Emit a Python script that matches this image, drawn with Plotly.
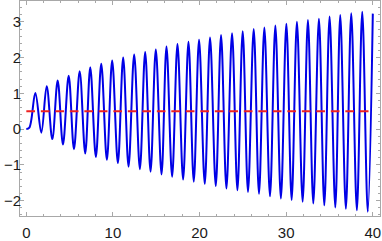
import plotly.graph_objects as go

# Curve: start, alternating peaks and troughs, end
start_x = [0.0, 0.35]
start_y = [0.0, 0.04]
peak_x = [1.04, 2.35, 3.62, 4.89, 6.16, 7.38, 8.65, 9.91, 11.18, 12.45,
          13.72, 14.95, 16.18, 17.45, 18.72, 19.94, 21.21, 22.48, 23.75, 24.98,
          26.25, 27.48, 28.75, 30.02, 31.24, 32.51, 33.78, 35.01, 36.24, 37.51, 38.78]
peak_y = [1.01, 1.20, 1.36, 1.49, 1.62, 1.73, 1.83, 1.92, 2.00, 2.09,
          2.16, 2.23, 2.31, 2.38, 2.44, 2.50, 2.56, 2.63, 2.68, 2.74,
          2.80, 2.84, 2.90, 2.95, 3.00, 3.05, 3.09, 3.15, 3.19, 3.24, 3.28]
trough_x = [1.73, 3.00, 4.23, 5.50, 6.80, 8.03, 9.30, 10.57, 11.80, 13.11,
            14.34, 15.61, 16.83, 18.10, 19.33, 20.60, 21.87, 23.10, 24.37, 25.59,
            26.86, 28.13, 29.39, 30.63, 31.90, 33.13, 34.40, 35.67, 36.89, 38.16, 39.42]
trough_y = [-0.10, -0.28, -0.43, -0.56, -0.68, -0.78, -0.86, -0.95, -1.05, -1.12,
            -1.19, -1.27, -1.33, -1.41, -1.47, -1.53, -1.59, -1.66, -1.71, -1.76,
            -1.81, -1.88, -1.94, -1.98, -2.03, -2.08, -2.13, -2.19, -2.23, -2.27, -2.31]
end_x = [40.0]
end_y = [3.23]

level_x = [0, 40]
level_y = [0.5, 0.5]

x_ticks = [0, 10, 20, 30, 40]
y_ticks = [-2, -1, 0, 1, 2, 3]

xs = list(start_x)
ys = list(start_y)
for px, py, tx, ty in zip(peak_x, peak_y, trough_x, trough_y):
    xs += [px, tx]
    ys += [py, ty]
xs += end_x
ys += end_y

fig = go.Figure()
fig.add_trace(go.Scatter(x=xs, y=ys, mode="lines",
                         line=dict(color="#0000E6", width=2, shape="spline", smoothing=1.0),
                         hoverinfo="skip"))
fig.add_trace(go.Scatter(x=level_x, y=level_y, mode="lines",
                         line=dict(color="#EE2222", width=2, dash="8.7px,5.8px"),
                         hoverinfo="skip"))

axis_common = dict(showgrid=False, zeroline=False, showline=True, linecolor="#A8A8A8",
                   linewidth=1, mirror="ticks", ticks="inside", ticklen=4, tickwidth=1,
                   tickcolor="#A8A8A8", ticklabeloverflow="allow", automargin=False,
                   tickfont=dict(family="Liberation Sans, Arial, sans-serif", size=15, color="#1a1a1a"))
fig.update_xaxes(range=[-0.73, 40.83], tickvals=x_ticks, ticklabelstandoff=3,
                 minor=dict(dtick=2, tick0=0, ticks="inside", ticklen=2, tickcolor="#A8A8A8"),
                 **axis_common)
fig.update_yaxes(range=[-2.43, 3.583], tickvals=y_ticks, ticklabelstandoff=-5,
                 minor=dict(dtick=0.2, tick0=0, ticks="inside", ticklen=2, tickcolor="#A8A8A8"),
                 **axis_common)
fig.update_layout(width=382, height=241, showlegend=False,
                  margin=dict(l=20, r=1.5, t=0.5, b=24.5),
                  paper_bgcolor="white", plot_bgcolor="white")
fig.write_html("out.html", config={"displayModeBar": False},
               post_script="document.body.style.margin='0';document.body.style.overflow='hidden';")
